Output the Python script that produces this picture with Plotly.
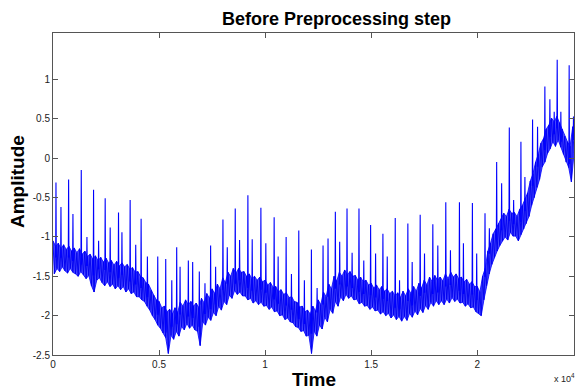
import plotly.graph_objects as go

# ---- data (time in samples, amplitude) ----
# noise band: upper edge at band_t, lower edge half a step later
band_t = list(range(0, 24501, 125))

band_hi = [
    -1.05, -1.12, -1.08, -1.15, -1.10, -1.16, -1.12, -1.18,
    -1.14, -1.20, -1.15, -1.22, -1.18, -1.25, -1.22, -1.28,
    -1.24, -1.30, -1.26, -1.32, -1.27, -1.33, -1.30, -1.36,
    -1.31, -1.37, -1.33, -1.38, -1.35, -1.41, -1.39, -1.45,
    -1.44, -1.50, -1.52, -1.58, -1.60, -1.68, -1.74, -1.80,
    -1.82, -1.90, -1.88, -1.95, -1.92, -1.98, -1.90, -1.96,
    -1.83, -1.88, -1.80, -1.86, -1.82, -1.88, -1.84, -1.90,
    -1.78, -1.84, -1.72, -1.78, -1.66, -1.72, -1.60, -1.66,
    -1.52, -1.58, -1.45, -1.50, -1.40, -1.46, -1.40, -1.45,
    -1.44, -1.50, -1.47, -1.53, -1.50, -1.55, -1.51, -1.57,
    -1.55, -1.61, -1.58, -1.64, -1.63, -1.70, -1.67, -1.73,
    -1.71, -1.77, -1.76, -1.82, -1.83, -1.89, -1.88, -1.95,
    -1.93, -1.98, -1.88, -1.94, -1.80, -1.86, -1.70, -1.76,
    -1.60, -1.66, -1.50, -1.56, -1.45, -1.50, -1.42, -1.48,
    -1.44, -1.50, -1.49, -1.55, -1.51, -1.57, -1.55, -1.61,
    -1.59, -1.65, -1.61, -1.67, -1.63, -1.69, -1.66, -1.72,
    -1.69, -1.75, -1.71, -1.77, -1.69, -1.75, -1.66, -1.72,
    -1.63, -1.69, -1.59, -1.65, -1.55, -1.61, -1.51, -1.57,
    -1.49, -1.55, -1.51, -1.56, -1.47, -1.53, -1.45, -1.51,
    -1.47, -1.53, -1.51, -1.57, -1.54, -1.60, -1.57, -1.63,
    -1.63, -1.70, -1.50, -1.40, -1.18, -1.08, -0.96, -0.90,
    -0.83, -0.78, -0.70, -0.74, -0.65, -0.70, -0.69, -0.74,
    -0.65, -0.60, -0.51, -0.44, -0.29, -0.20, -0.05, 0.05,
    0.19, 0.25, 0.37, 0.42, 0.51, 0.46, 0.53, 0.45,
    0.37, 0.28, 0.21, 0.15, 0.40]

band_lo = [
    -1.47, -1.40, -1.44, -1.38, -1.43, -1.46, -1.40, -1.45,
    -1.47, -1.50, -1.44, -1.48, -1.53, -1.49, -1.62, -1.70,
    -1.55, -1.52, -1.58, -1.62, -1.57, -1.63, -1.60, -1.66,
    -1.62, -1.67, -1.63, -1.70, -1.66, -1.72, -1.70, -1.76,
    -1.76, -1.80, -1.82, -1.88, -1.93, -2.00, -2.05, -2.12,
    -2.16, -2.22, -2.28, -2.48, -2.25, -2.30, -2.20, -2.26,
    -2.14, -2.18, -2.10, -2.16, -2.12, -2.18, -2.20, -2.38,
    -2.08, -2.12, -2.02, -2.06, -1.96, -2.00, -1.88, -1.93,
    -1.82, -1.86, -1.74, -1.78, -1.68, -1.73, -1.70, -1.75,
    -1.75, -1.80, -1.78, -1.84, -1.81, -1.86, -1.83, -1.88,
    -1.87, -1.92, -1.89, -1.95, -1.94, -2.00, -1.99, -2.05,
    -2.03, -2.08, -2.09, -2.14, -2.15, -2.20, -2.19, -2.26,
    -2.25, -2.48, -2.20, -2.26, -2.12, -2.17, -2.02, -2.08,
    -1.92, -1.97, -1.82, -1.88, -1.76, -1.81, -1.73, -1.78,
    -1.75, -1.80, -1.79, -1.85, -1.83, -1.88, -1.87, -1.92,
    -1.89, -1.94, -1.93, -1.98, -1.95, -2.00, -1.97, -2.03,
    -1.99, -2.05, -2.01, -2.07, -2.01, -2.06, -1.97, -2.02,
    -1.94, -1.99, -1.91, -1.96, -1.87, -1.92, -1.83, -1.88,
    -1.81, -1.86, -1.81, -1.86, -1.79, -1.84, -1.77, -1.82,
    -1.79, -1.84, -1.83, -1.88, -1.85, -1.90, -1.89, -1.95,
    -1.97, -2.00, -1.80, -1.62, -1.47, -1.35, -1.26, -1.18,
    -1.11, -1.05, -1.00, -1.04, -0.94, -0.99, -0.99, -1.05,
    -0.97, -0.90, -0.83, -0.74, -0.60, -0.50, -0.37, -0.27,
    -0.11, -0.05, 0.06, 0.12, 0.21, 0.15, 0.23, 0.14,
    0.05, -0.05, -0.12, -0.30, 0.06]

beat_t = [140, 375, 736, 940, 1332, 1600, 1912, 2150, 2460, 2696,
          3088, 3250, 3637, 3900, 4154, 4450, 4938, 5314, 5600, 5831,
          5990, 6380, 6584, 6897, 7164, 7430, 7666, 8011, 8215, 8591,
          8795, 9187, 9391, 9800, 10033, 10425, 10613, 10990, 11240, 11586,
          11850, 12181, 12450, 12730, 12965, 13310, 13514, 13860, 14100, 14424,
          14650, 14972, 15207, 15552, 15756, 16133, 16336, 16728, 16932, 17309,
          17513, 17905, 18140, 18516, 18736, 19159, 19347, 19770, 19973, 20365,
          20570, 20914, 21149, 21510, 21714, 22058, 22246, 22607, 22842, 23187,
          23423, 23627, 23768, 23940, 24332, 24536]

beat_y = [-0.31, -0.62, -0.27, -0.71, -0.15, -1.00, -0.40, -1.05, -0.51, -0.88,
          -0.69, -0.94, -0.53, -1.10, -0.77, -1.25, -1.25, -1.28, -1.55, -1.13,
          -1.38, -1.30, -1.32, -1.44, -1.59, -1.11, -1.38, -0.78, -1.13, -0.64,
          -1.04, -0.47, -1.03, -0.63, -1.08, -0.75, -1.25, -1.00, -1.47, -0.92,
          -1.55, -1.16, -1.65, -1.11, -1.02, -0.68, -1.06, -0.64, -1.20, -0.64,
          -1.30, -0.85, -1.21, -0.96, -1.25, -0.76, -1.55, -0.83, -1.32, -0.72,
          -1.21, -0.84, -1.11, -0.56, -1.17, -0.56, -1.08, -0.57, -1.21, -0.70,
          -0.89, -0.05, -0.32, 0.39, -0.53, 0.21, -0.24, 0.49, 0.40, 0.91,
          0.75, 0.59, 1.25, 0.59, 1.18, 0.53]

x_tick_vals = [0, 5000, 10000, 15000, 20000]
x_tick_text = ["0", "0.5", "1", "1.5", "2"]
y_tick_vals = [-2.5, -2, -1.5, -1, -0.5, 0, 0.5, 1]
y_tick_text = ["-2.5", "-2", "-1.5", "-1", "-0.5", "0", "0.5", "1"]

BLUE = "#0000ff"
FONT = "Liberation Sans, Arial, sans-serif"
AX = "#555555"
STEP = 125
HALF = 62

fig = go.Figure()

lo_t = [t + HALF for t in band_t]

# noise band as a filled area between the two jagged edges
fig.add_trace(go.Scatter(x=lo_t, y=band_lo, mode="lines",
                         line=dict(color=BLUE, width=0.8),
                         hoverinfo="skip", showlegend=False))
fig.add_trace(go.Scatter(x=band_t, y=band_hi, mode="lines",
                         line=dict(color=BLUE, width=0.8),
                         fill="tonexty", fillcolor="rgba(25,25,255,0.80)",
                         hoverinfo="skip", showlegend=False))

# texture inside the band: zig-zag between the two edges
zz = list(zip(band_t, band_hi)) + list(zip(lo_t, band_lo))
zz.sort(key=lambda p: p[0])
fig.add_trace(go.Scatter(x=[p[0] for p in zz], y=[p[1] for p in zz], mode="lines",
                         line=dict(color="#0000ee", width=0.9),
                         hoverinfo="skip", showlegend=False))

# R-peak spikes: thin strokes from inside the band up to the peak
sx, sy = [], []
for t, peak in zip(beat_t, beat_y):
    i = min(len(band_t) - 1, int(round(t / STEP)))
    base = (band_hi[i] + band_lo[i]) / 2
    sx += [t - 15, t, t + 15, None]
    sy += [base, peak, base, None]
fig.add_trace(go.Scatter(x=sx, y=sy, mode="lines",
                         line=dict(color=BLUE, width=1.1),
                         hoverinfo="skip", showlegend=False))

fig.update_layout(
    width=576, height=389,
    margin=dict(l=53, r=2, t=33, b=34),
    paper_bgcolor="white", plot_bgcolor="white",
    font=dict(family=FONT, size=10, color="#222222"),
    title=dict(text="<b>Before Preprocessing step</b>",
               x=313.5 / 576, xref="paper", xanchor="center",
               y=1 - 19 / 389, yref="container", yanchor="middle",
               font=dict(family=FONT, size=18, color="black")),
    xaxis=dict(range=[0, 24560], tickvals=x_tick_vals, ticktext=x_tick_text,
               ticks="inside", ticklen=5, tickcolor=AX, showline=True,
               linecolor=AX, linewidth=1, mirror="ticks", showgrid=False,
               zeroline=False, tickfont=dict(size=10, color="#222222")),
    yaxis=dict(range=[-2.5, 1.59], tickvals=y_tick_vals, ticktext=y_tick_text,
               ticks="inside", ticklen=5, tickcolor=AX, showline=True,
               linecolor=AX, linewidth=1, mirror="ticks", showgrid=False,
               zeroline=False, tickfont=dict(size=10, color="#222222")),
    annotations=[
        dict(text="<b>Time</b>", xref="paper", yref="paper",
             x=(313.5 - 53) / 521, y=-(379 - 355) / 322,
             xanchor="center", yanchor="middle", showarrow=False,
             font=dict(family=FONT, size=19, color="black")),
        dict(text="<b>Amplitude</b>", xref="paper", yref="paper",
             x=-(53 - 17) / 521, y=(355 - 182) / 322, textangle=-90,
             xanchor="center", yanchor="middle", showarrow=False,
             font=dict(family=FONT, size=19, color="black")),
        dict(text="x 10<sup>4</sup>", xref="paper", yref="paper",
             x=(564 - 53) / 521, y=-(378 - 355) / 322,
             xanchor="center", yanchor="middle", showarrow=False,
             font=dict(family=FONT, size=9, color="#222222")),
    ],
)

fig.write_html("out.html",
               config={"displayModeBar": False},
               post_script="document.body.style.margin='0px';"
                           "document.body.style.overflow='hidden';")
